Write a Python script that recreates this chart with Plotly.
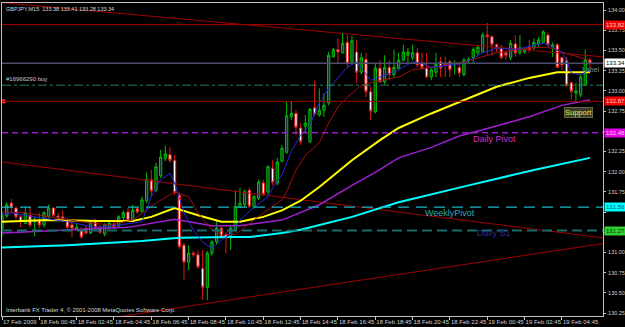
import plotly.graph_objects as go

# ---------------- data ----------------
tick_bars = [0, 8, 16, 24, 32, 40, 48, 56, 64, 72, 80, 88, 96, 104, 112, 120]
tick_labels = ["17 Feb 2009", "18 Feb 00:45", "18 Feb 02:45", "18 Feb 04:45", "18 Feb 06:45",
               "18 Feb 08:45", "18 Feb 10:45", "18 Feb 12:45", "18 Feb 14:45", "18 Feb 16:45",
               "18 Feb 18:45", "18 Feb 20:45", "18 Feb 22:45", "19 Feb 00:45", "19 Feb 02:45",
               "19 Feb 04:45"]
price_ticks = [130.25, 130.50, 130.75, 131.00, 131.25, 131.50, 131.75, 132.00,
               132.25, 132.50, 132.75, 133.00, 133.25, 133.50, 133.75, 134.00]
# labels hidden behind the price tags in the picture are left blank
price_tick_text = ["130.25", "130.50", "130.75", "131.00", "", "", "131.75", "132.00",
                   "132.25", "", "132.75", "133.00", "133.25", "133.50", "133.75", "134.00"]

opens = [131.30, 131.45, 131.61, 131.55, 131.44, 131.36, 131.46, 131.38, 131.40, 131.34,
         131.44, 131.55, 131.45, 131.44, 131.40, 131.34, 131.29, 131.28, 131.30, 131.24,
         131.38, 131.31, 131.23, 131.31, 131.35, 131.33, 131.43, 131.50, 131.40, 131.54,
         131.51, 131.64, 131.90, 131.77, 131.95, 132.16, 132.21, 132.14, 131.71, 131.09,
         130.88, 130.99, 130.97, 130.80, 130.57, 130.99, 131.13, 131.30, 131.22, 131.18,
         131.28, 131.56, 131.59, 131.77, 131.56, 131.67, 131.86, 131.75, 132.04, 131.86,
         132.13, 132.24, 132.68, 132.72, 132.54, 132.56, 132.37, 132.79, 132.70, 132.76,
         132.85, 133.42, 133.51, 133.47, 133.60, 133.36, 133.48, 133.23, 133.39, 132.99,
         132.74, 133.28, 133.11, 133.29, 133.20, 133.28, 133.38, 133.44, 133.41, 133.47,
         133.34, 133.28, 133.17, 133.23, 133.36, 133.34, 133.36, 133.32, 133.29, 133.20,
         133.37, 133.41, 133.47, 133.48, 133.69, 133.67, 133.57, 133.53, 133.47, 133.41,
         133.58, 133.47, 133.48, 133.54, 133.53, 133.58, 133.60, 133.69, 133.54, 133.57,
         133.41, 133.38, 133.10, 132.97, 132.95, 133.07, 133.38]
highs = [131.50, 131.62, 131.66, 131.57, 131.46, 131.56, 131.56, 131.44, 131.49, 131.51,
         131.59, 131.56, 131.49, 131.52, 131.43, 131.38, 131.35, 131.31, 131.33, 131.40,
         131.41, 131.34, 131.36, 131.40, 131.38, 131.46, 131.52, 131.55, 131.59, 131.56,
         131.69, 131.99, 132.02, 132.11, 132.27, 132.32, 132.30, 132.21, 131.74, 131.12,
         131.09, 131.02, 131.03, 131.03, 131.02, 131.15, 131.40, 131.34, 131.25, 131.33,
         131.77, 131.80, 131.78, 131.80, 131.71, 131.90, 131.90, 132.08, 132.14, 132.17,
         132.33, 132.86, 132.87, 132.76, 132.60, 132.70, 132.79, 133.13, 133.03, 132.97,
         133.48, 133.53, 133.65, 133.72, 133.69, 133.68, 133.63, 133.47, 133.47, 133.05,
         133.34, 133.38, 133.44, 133.38, 133.51, 133.47, 133.57, 133.53, 133.57, 133.53,
         133.47, 133.47, 133.29, 133.47, 133.42, 133.42, 133.38, 133.38, 133.34, 133.41,
         133.42, 133.54, 133.57, 133.72, 133.84, 133.69, 133.59, 133.57, 133.48, 133.63,
         133.69, 133.69, 133.54, 133.63, 133.65, 133.67, 133.75, 133.72, 133.60, 133.59,
         133.42, 133.42, 133.11, 133.10, 133.20, 133.51, 133.41]
lows = [131.19, 131.43, 131.50, 131.41, 131.31, 131.35, 131.31, 131.20, 131.30, 131.31,
        131.43, 131.44, 131.40, 131.38, 131.29, 131.19, 131.27, 131.17, 131.22, 131.23,
        131.29, 131.23, 131.20, 131.29, 131.29, 131.30, 131.39, 131.38, 131.38, 131.48,
        131.49, 131.61, 131.69, 131.75, 131.92, 132.13, 132.11, 131.71, 131.04, 130.66,
        130.78, 130.94, 130.80, 130.41, 130.41, 130.96, 131.10, 131.17, 130.99, 131.03,
        131.25, 131.55, 131.56, 131.55, 131.54, 131.65, 131.70, 131.72, 131.83, 131.83,
        132.11, 132.22, 132.64, 132.45, 132.33, 132.48, 132.35, 132.69, 132.68, 132.68,
        132.82, 133.41, 133.34, 133.46, 133.29, 133.33, 133.10, 133.20, 132.92, 132.64,
        132.72, 133.10, 133.08, 133.13, 133.17, 133.26, 133.36, 133.34, 133.38, 133.29,
        133.26, 133.16, 133.13, 133.17, 133.17, 133.17, 133.17, 133.20, 133.17, 133.18,
        133.34, 133.34, 133.44, 133.47, 133.44, 133.44, 133.48, 133.39, 133.38, 133.38,
        133.42, 133.44, 133.46, 133.47, 133.51, 133.54, 133.59, 133.54, 133.42, 133.28,
        133.26, 133.05, 132.89, 132.86, 132.92, 133.06, 133.28]
closes = [131.46, 131.59, 131.56, 131.44, 131.38, 131.49, 131.34, 131.41, 131.34, 131.49,
          131.55, 131.46, 131.43, 131.41, 131.31, 131.30, 131.31, 131.19, 131.24, 131.38,
          131.31, 131.25, 131.34, 131.36, 131.31, 131.44, 131.49, 131.40, 131.52, 131.50,
          131.65, 131.90, 131.76, 132.06, 132.18, 132.22, 132.14, 131.74, 131.07, 130.88,
          130.99, 130.97, 130.82, 130.57, 130.99, 131.13, 131.30, 131.19, 131.18, 131.30,
          131.57, 131.61, 131.75, 131.57, 131.69, 131.87, 131.72, 132.06, 131.87, 132.12,
          132.29, 132.69, 132.72, 132.55, 132.37, 132.60, 132.77, 132.71, 132.76, 132.82,
          133.44, 133.51, 133.48, 133.59, 133.34, 133.62, 133.23, 133.41, 132.99, 132.75,
          133.28, 133.11, 133.29, 133.20, 133.29, 133.38, 133.48, 133.48, 133.47, 133.32,
          133.29, 133.17, 133.26, 133.33, 133.28, 133.32, 133.26, 133.34, 133.22, 133.38,
          133.39, 133.51, 133.54, 133.69, 133.67, 133.57, 133.53, 133.41, 133.44, 133.59,
          133.47, 133.53, 133.51, 133.51, 133.60, 133.63, 133.73, 133.57, 133.57, 133.29,
          133.32, 133.07, 132.99, 133.00, 133.17, 133.38, 133.34]

blue_bars = [0, 2, 7, 14, 20, 24, 30, 32, 34, 36, 37, 39, 41, 43, 45, 47, 49, 51, 54, 57, 58,
             60, 62, 64, 66, 68, 70, 74, 76, 78, 79, 81, 85, 88, 90, 92, 99, 103, 106, 110,
             116, 117, 120, 121, 122, 124, 126]
blue_ma = [131.47, 131.49, 131.44, 131.38, 131.31, 131.33, 131.38, 131.69, 131.90, 131.98,
           131.86, 131.49, 131.28, 131.13, 131.05, 131.15, 131.22, 131.40, 131.56, 131.69,
           131.80, 131.96, 132.25, 132.45, 132.58, 132.85, 133.03, 133.29, 133.36, 133.20,
           133.13, 133.17, 133.26, 133.36, 133.34, 133.29, 133.34, 133.47, 133.53, 133.51,
           133.59, 133.57, 133.48, 133.38, 133.22, 133.20, 133.26]

red_bars = [0, 5, 10, 17, 23, 28, 33, 37, 40, 42, 45, 47, 50, 52, 56, 60, 61, 63, 65, 68, 70,
            72, 74, 77, 81, 85, 88, 92, 99, 106, 113, 117, 120, 124, 126]
red_ma = [131.50, 131.49, 131.44, 131.38, 131.34, 131.40, 131.61, 131.75, 131.69, 131.49,
          131.28, 131.22, 131.22, 131.31, 131.49, 131.65, 131.75, 132.02, 132.20, 132.36,
          132.60, 132.80, 132.92, 133.07, 133.13, 133.17, 133.26, 133.29, 133.36, 133.47,
          133.53, 133.54, 133.48, 133.41, 133.38]

yellow_bars = [0, 10, 21, 28, 32, 37, 42, 47, 51, 56, 60, 64, 68, 75, 81, 85, 92, 99, 106,
               113, 119, 126]
yellow_ma = [131.38, 131.40, 131.39, 131.39, 131.44, 131.55, 131.46, 131.38, 131.38, 131.44,
             131.52, 131.64, 131.81, 132.14, 132.39, 132.54, 132.72, 132.89, 133.05, 133.16,
             133.23, 133.23]

purple_bars = [0, 14, 27, 37, 45, 51, 60, 68, 75, 80, 85, 92, 98, 105, 113, 120, 126]
purple_ma = [131.24, 131.28, 131.31, 131.41, 131.33, 131.33, 131.40, 131.59, 131.83, 131.99,
             132.17, 132.30, 132.44, 132.55, 132.68, 132.82, 132.89]

cyan_bars = [0, 14, 30, 38, 49, 53, 60, 64, 75, 85, 100, 114, 126]
cyan_ma = [131.06, 131.09, 131.14, 131.18, 131.19, 131.19, 131.24, 131.28, 131.44, 131.62,
           131.83, 132.02, 132.17]

# horizontal levels and their price tags
level_prices = [133.82, 133.34, 133.07, 132.87, 132.48, 131.56, 131.27]
level_colors = ["#a00000", "#4c4c6c", "#2e7d5e", "#a00000", "#9a1ac8", "#22b4c4", "#1b6b6b"]
level_dash = ["solid", "solid", "dashdot", "solid", "6px,4px", "11px,7px", "10px,5px"]
level_width = [1, 1.5, 1, 1, 1.5, 1.2, 2]

tag_prices = [133.82, 133.34, 132.87, 132.48, 131.56, 131.27]
tag_texts = ["133.82", "133.34", "132.87", "132.48", "131.56", "131.27"]
tag_bg = ["#f00000", "#ffffff", "#f00000", "#e000e0", "#00ffff", "#30d030"]
tag_fg = ["#ffd0d0", "#000000", "#ffd0d0", "#ffd0ff", "#006060", "#003000"]

# trend lines: (bar, price) end points
trend_bars = [[0, 128.8], [0, 128.8], [24.6, 128.8]]
trend_prices = [[134.09, 133.42], [132.12, 131.18], [130.20, 131.11]]

# text objects on chart: (bar, price, text, colour)
text_bars = [105.5, 96.0, 105.5]
text_prices = [132.40, 131.49, 131.24]
text_labels = ["Daily Pivot", "WeeklyPivot", "Daily S1"]
text_colors = ["#d030d0", "#30a8a8", "#2a2a9a"]

BG = "#000000"
FONT = "Liberation Sans, Arial, sans-serif"

fig = go.Figure()

for tb, tp in zip(trend_bars, trend_prices):
    fig.add_trace(go.Scatter(x=tb, y=tp, mode="lines",
                             line=dict(color="#a00000", width=1), hoverinfo="skip"))

fig.add_trace(go.Scatter(x=cyan_bars, y=cyan_ma, mode="lines",
                         line=dict(color="#00ffff", width=2), hoverinfo="skip"))
fig.add_trace(go.Scatter(x=purple_bars, y=purple_ma, mode="lines",
                         line=dict(color="#a020d0", width=1.5), hoverinfo="skip"))
fig.add_trace(go.Scatter(x=yellow_bars, y=yellow_ma, mode="lines",
                         line=dict(color="#ffff00", width=2), hoverinfo="skip"))
fig.add_trace(go.Scatter(x=red_bars, y=red_ma, mode="lines",
                         line=dict(color="#a01010", width=1), hoverinfo="skip"))
fig.add_trace(go.Scatter(x=blue_bars, y=blue_ma, mode="lines",
                         line=dict(color="#2828d8", width=1), hoverinfo="skip"))

bars = list(range(len(opens)))
fig.add_trace(go.Candlestick(
    x=bars, open=opens, high=highs, low=lows, close=closes,
    increasing=dict(line=dict(color="#00c000", width=1), fillcolor="#163636"),
    decreasing=dict(line=dict(color="#e01818", width=1), fillcolor="#ffffff"),
    whiskerwidth=0, hoverinfo="skip"))

# small marker at left of the 132.87 line
fig.add_trace(go.Scatter(x=[0.3], y=[level_prices[3]], mode="markers",
                         marker=dict(symbol="square", size=4, color="#ff3030"),
                         hoverinfo="skip"))

shapes = []
for p, c, d, w in zip(level_prices, level_colors, level_dash, level_width):
    shapes.append(dict(type="line", xref="paper", x0=0, x1=1, yref="y", y0=p, y1=p,
                       line=dict(color=c, width=w, dash=d), layer="above"))

annotations = []
for p, t, bg, fg in zip(tag_prices, tag_texts, tag_bg, tag_fg):
    annotations.append(dict(xref="paper", x=1, xanchor="left", xshift=1, yref="y", y=p,
                            text=t, showarrow=False, bgcolor=bg, borderpad=1,
                            font=dict(family=FONT, size=6, color=fg)))
for b, p, t, c in zip(text_bars, text_prices, text_labels, text_colors):
    annotations.append(dict(x=b, y=p, text=t, showarrow=False,
                            font=dict(family=FONT, size=9, color=c)))

annotations += [
    dict(xref="paper", x=0.003, xanchor="left", yref="paper", y=1, yanchor="top", yshift=-1,
         text="GBPJPY,M15  133.38 133.41 133.28 133.34", showarrow=False,
         font=dict(family=FONT, size=5.5, color="#d8d8d8")),
    dict(xref="paper", x=0.003, xanchor="left", yref="paper", y=0, yanchor="bottom", yshift=1,
         text="Interbank FX Trader 4, © 2001-2008 MetaQuotes Software Corp.", showarrow=False,
         font=dict(family=FONT, size=5.9, color="#d8d8d8")),
    dict(xref="paper", x=0.003, xanchor="left", yref="y", y=level_prices[2], yanchor="bottom",
         yshift=1, text="#16966290 buy", showarrow=False,
         font=dict(family=FONT, size=6, color="#c8c8c8")),
    dict(x=123.5, y=132.73, text="Support", showarrow=False, bgcolor="#3a3a26",
         bordercolor="#6a6a40", borderwidth=1, borderpad=0,
         font=dict(family=FONT, size=7.5, color="#e6e650")),
    dict(x=128.6, xanchor="right", y=133.26, text="Label", showarrow=False,
         font=dict(family=FONT, size=7, color="#8a8a8a")),
]

fig.update_layout(
    width=625, height=327,
    margin=dict(l=2, r=22, t=3, b=11, autoexpand=False),
    paper_bgcolor=BG, plot_bgcolor=BG,
    showlegend=False,
    shapes=shapes, annotations=annotations,
    font=dict(family=FONT, size=6, color="#d0d0d0"),
    xaxis=dict(range=[0, 128.8], rangeslider=dict(visible=False), showgrid=False,
               zeroline=False, tickvals=tick_bars, ticktext=tick_labels, tickangle=0,
               automargin=False,
               ticks="outside", ticklen=3, tickcolor="#c0c0c0",
               ticklabelposition="outside right",
               tickfont=dict(family=FONT, size=6, color="#d0d0d0"),
               showline=True, linecolor="#c0c0c0", linewidth=1, mirror=True),
    yaxis=dict(range=[130.213, 134.087], side="right", showgrid=False, zeroline=False,
               tickvals=price_ticks, ticktext=price_tick_text, automargin=False,
               ticks="outside", ticklen=2, tickcolor="#c0c0c0", ticklabelstandoff=1,
               tickfont=dict(family=FONT, size=5.5, color="#d0d0d0"),
               showline=True, linecolor="#c0c0c0", linewidth=1, mirror=True),
)

fig.write_html("out.html")
